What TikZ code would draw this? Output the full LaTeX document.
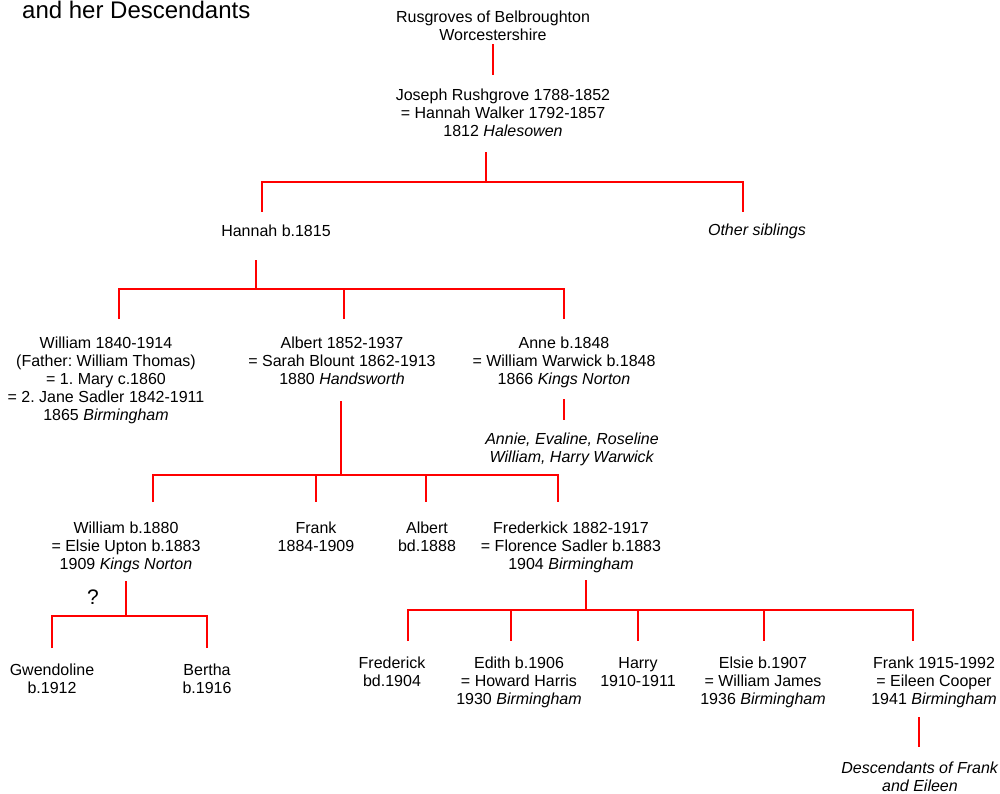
\documentclass[tikz,border=0pt]{standalone}
\usepackage{fontspec}
\setmainfont{Liberation Sans}
\usetikzlibrary{calc}
\frenchspacing
\begin{document}
\begin{tikzpicture}[x=1pt,y=-1pt,
  every node/.style={inner sep=0pt,align=center,font=\fontsize{16}{18}\selectfont},
  fam/.style={draw=red,line width=2pt}]
\useasboundingbox (0,0) rectangle (1000,794);

% title
\node[anchor=base west,font=\fontsize{24}{28}\selectfont] (title) at (22,19) {and her Descendants};

% generation 0/1
\node (top) at (493,26) {Rusgroves of Belbroughton\\Worcestershire};
\node (joseph) at (503,113) {Joseph Rushgrove 1788-1852\\= Hannah Walker 1792-1857\\1812 \textit{Halesowen}};

% generation 2
\node (hannah) at (276,231) {Hannah b.1815};
\node (other) at (757,231) {\textit{Other siblings}};

% generation 3
\node (william1) at (106,380.6) {William 1840-1914\\(Father: William Thomas)\\= 1. Mary c.1860\\= 2. Jane Sadler 1842-1911\\1865 \textit{Birmingham}};
\node (albert1) at (342,361) {Albert 1852-1937\\= Sarah Blount 1862-1913\\1880 \textit{Handsworth}};
\node (anne) at (564,362.6) {Anne b.1848\\= William Warwick b.1848\\1866 \textit{Kings Norton}};
\node (annekids) at (572,449.6) {\textit{Annie, Evaline, Roseline}\\\textit{William, Harry Warwick}};

% generation 4
\node (william2) at (126,547.6) {William b.1880\\= Elsie Upton b.1883\\1909 \textit{Kings Norton}};
\node (frank1) at (316,537) {Frank\\1884-1909};
\node (albert2) at (427,537) {Albert\\bd.1888};
\node (fred) at (571,547.6) {Frederkick 1882-1917\\= Florence Sadler b.1883\\1904 \textit{Birmingham}};
\node[font=\fontsize{21}{24}\selectfont] (q) at (93,597) {?};

% generation 5
\node (gwen) at (52,679) {Gwendoline\\b.1912};
\node (bertha) at (207,679) {Bertha\\b.1916};
\node (frederick) at (392,672) {Frederick\\bd.1904};
\node (edith) at (519,682.6) {Edith b.1906\\= Howard Harris\\1930 \textit{Birmingham}};
\node (harry) at (638,672) {Harry\\1910-1911};
\node (elsie) at (763,682.6) {Elsie b.1907\\= William James\\1936 \textit{Birmingham}};
\node (frank2) at (934,682.6) {Frank 1915-1992\\= Eileen Cooper\\1941 \textit{Birmingham}};
\node (desc) at (920,776.5) {\textit{Descendants of Frank}\\\textit{and Eileen}};

% connectors
\draw[fam] ($(top.south)+(0,3)$) -- ++(0,31);

% Joseph's children
\coordinate (j1) at (486,182);
\coordinate (j1a) at (262,182);
\coordinate (j1b) at (743,182);
\draw[fam] ($(joseph.south -| j1)+(0,15)$) -- (j1);
\draw[fam] ($(j1a)+(0,30)$) -- (j1a) -- (j1b) -- ++(0,30);

% Hannah's children
\coordinate (h1) at (256,289);
\coordinate (h1a) at (119,289);
\coordinate (h1b) at (344,289);
\coordinate (h1c) at (564,289);
\draw[fam] (h1) -- ++(0,-29);
\draw[fam] ($(h1a)+(0,30)$) -- (h1a) -- (h1c) -- ++(0,30);
\draw[fam] (h1b) -- ++(0,30);

% Anne's children
\coordinate (an1) at (564,399);
\draw[fam] (an1) -- ++(0,21);

% Albert's children
\coordinate (a1) at (341,475);
\coordinate (a1a) at (153,475);
\coordinate (a1b) at (316,475);
\coordinate (a1c) at (426,475);
\coordinate (a1d) at (558,475);
\draw[fam] (a1) -- ++(0,-74);
\draw[fam] ($(a1a)+(0,27)$) -- (a1a) -- (a1d) -- ++(0,27);
\draw[fam] (a1b) -- ++(0,27);
\draw[fam] (a1c) -- ++(0,27);

% William's children
\coordinate (w1) at (126,616);
\coordinate (w1a) at (52,616);
\coordinate (w1b) at (207,616);
\draw[fam] (w1) -- ++(0,-35);
\draw[fam] ($(w1a)+(0,32)$) -- (w1a) -- (w1b) -- ++(0,32);

% Frederkick's children
\coordinate (f1) at (586,610);
\coordinate (f1a) at (408,610);
\coordinate (f1b) at (511,610);
\coordinate (f1c) at (638,610);
\coordinate (f1d) at (764,610);
\coordinate (f1e) at (913,610);
\draw[fam] (f1) -- ++(0,-30);
\draw[fam] ($(f1a)+(0,31)$) -- (f1a) -- (f1e) -- ++(0,31);
\draw[fam] (f1b) -- ++(0,31);
\draw[fam] (f1c) -- ++(0,31);
\draw[fam] (f1d) -- ++(0,31);

% Frank's descendants
\coordinate (fr1) at (919,717);
\draw[fam] (fr1) -- ++(0,30);
\end{tikzpicture}
\end{document}
